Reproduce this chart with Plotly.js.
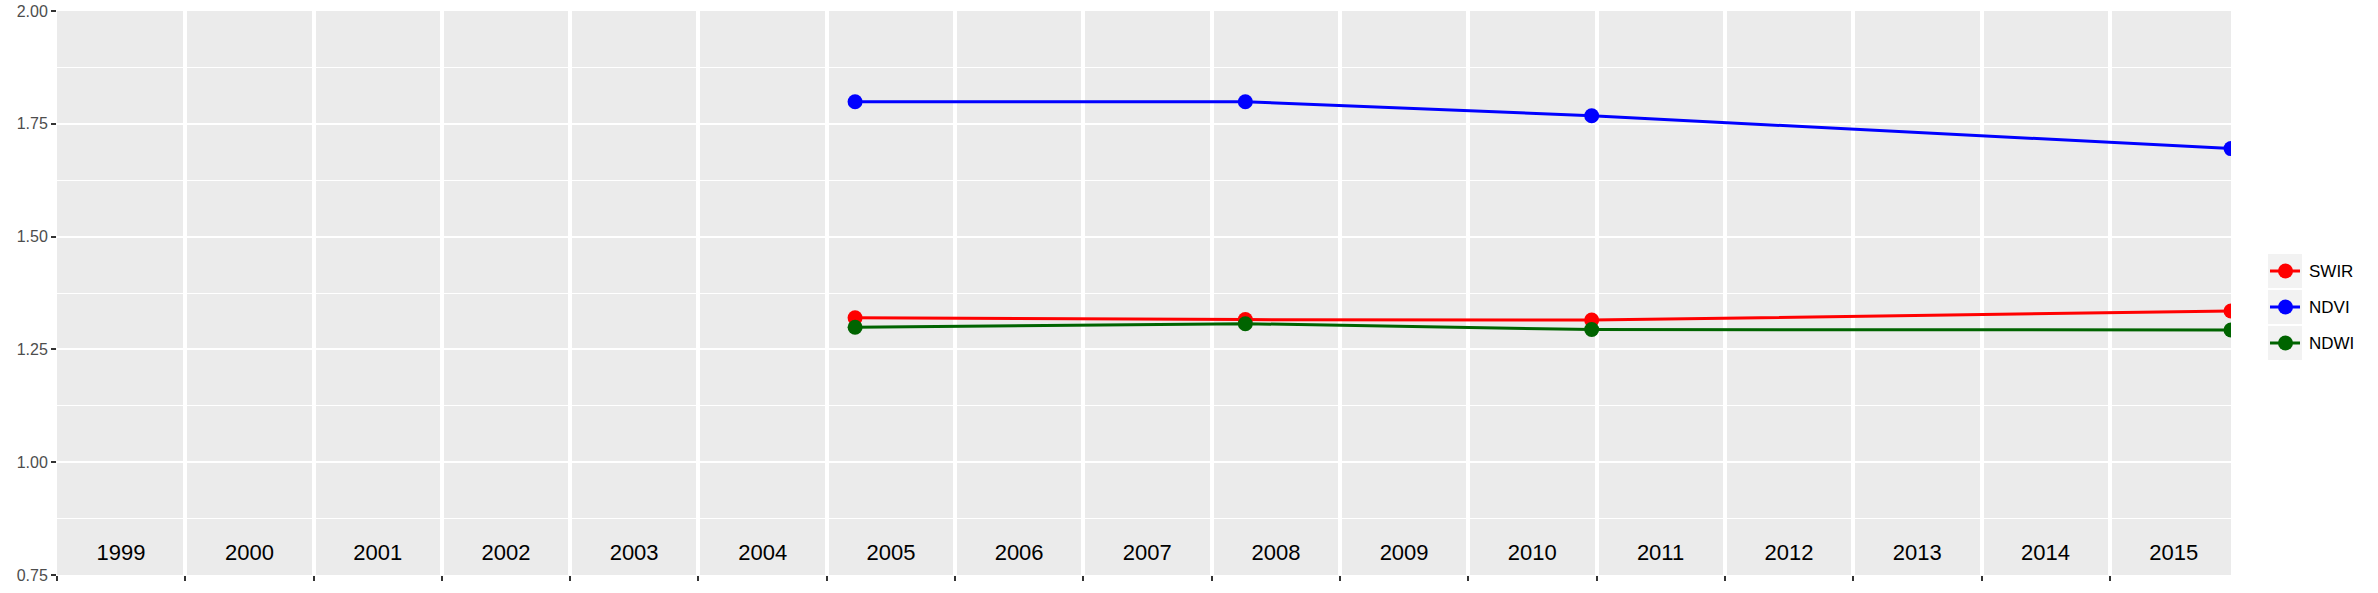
<!DOCTYPE html>
<html>
<head>
<meta charset="utf-8">
<script src="https://cdn.plot.ly/plotly-3.0.1.min.js"></script>
<style>html,body{margin:0;padding:0;background:#fff;}#chart{width:2378px;height:593px;}</style>
</head>
<body>
<div id="chart"></div>
<script>
// ---- data ----
const dates = ['2005-03-22', '2008-04-06', '2010-12-18', '2015-12-12'];
const swir  = [1.320, 1.316, 1.315, 1.335];
const ndvi  = [1.799, 1.799, 1.768, 1.695];
const ndwi  = [1.299, 1.307, 1.294, 1.293];
const seriesNames  = ['SWIR', 'NDVI', 'NDWI'];
const seriesColors = ['#FF0000', '#0000FF', '#006400'];
const yearLabels = ['1999','2000','2001','2002','2003','2004','2005','2006','2007','2008','2009','2010','2011','2012','2013','2014','2015'];
const yTicks = [0.75, 1.00, 1.25, 1.50, 1.75, 2.00];

// ---- layout geometry ----
const W = 2378, H = 593;
const M = {l: 57, r: 147, t: 11, b: 18};
const PW = W - M.l - M.r, PH = H - M.t - M.b;
const px = x => (x - M.l) / PW;
const py = y => (H - M.b - y) / PH;
const labelY = 0.795;

const seriesVals = [swir, ndvi, ndwi];
const traces = seriesVals.map((v, i) => ({
  x: dates, y: v, type: 'scatter', mode: 'lines+markers', name: seriesNames[i],
  line: {color: seriesColors[i], width: 3},
  marker: {color: seriesColors[i], size: 15},
  showlegend: false, hoverinfo: 'x+y'
}));
traces.push({
  x: yearLabels.map(y => y + '-07-02'), y: yearLabels.map(() => labelY),
  type: 'scatter', mode: 'text', text: yearLabels, textposition: 'middle center',
  textfont: {family: 'Liberation Sans, Arial, sans-serif', size: 22, color: '#000000'},
  showlegend: false, hoverinfo: 'skip'
});

// manual legend (ggplot style keys)
const shapes = [], annotations = [];
seriesNames.forEach((n, i) => {
  const top = 254 + 36 * i, cy = top + 17;
  shapes.push({type: 'rect', xref: 'paper', yref: 'paper', x0: px(2268), x1: px(2302), y0: py(top + 34), y1: py(top),
    fillcolor: '#F2F2F2', line: {width: 0}, layer: 'above'});
  shapes.push({type: 'line', xref: 'paper', yref: 'paper', x0: px(2270), x1: px(2300), y0: py(cy), y1: py(cy),
    line: {color: seriesColors[i], width: 3}, layer: 'above'});
  shapes.push({type: 'circle', xref: 'paper', yref: 'paper', x0: px(2285.5 - 7.5), x1: px(2285.5 + 7.5), y0: py(cy + 7.5), y1: py(cy - 7.5),
    fillcolor: seriesColors[i], line: {width: 0}, layer: 'above'});
  annotations.push({xref: 'paper', yref: 'paper', x: px(2307), y: py(cy), xanchor: 'left', yanchor: 'middle',
    text: n, showarrow: false, font: {family: 'Liberation Sans, Arial, sans-serif', size: 17, color: '#000000'}});
});

const layout = {
  width: W, height: H,
  margin: M,
  paper_bgcolor: '#FFFFFF', plot_bgcolor: '#EBEBEB',
  showlegend: false,
  font: {family: 'Liberation Sans, Arial, sans-serif'},
  xaxis: {
    type: 'date', range: ['1999-01-01', '2015-12-12'],
    tick0: '1999-01-01', dtick: 'M12',
    showgrid: true, gridcolor: '#FFFFFF', gridwidth: 4,
    showticklabels: false, ticks: 'outside', ticklen: 5, tickwidth: 2, tickcolor: '#333333',
    zeroline: false, showline: false, fixedrange: true
  },
  yaxis: {
    range: [0.75, 2.0], tickvals: yTicks, ticktext: yTicks.map(v => v.toFixed(2)),
    showgrid: true, gridcolor: '#FFFFFF', gridwidth: 2,
    minor: {dtick: 0.125, tick0: 0.75, showgrid: true, gridcolor: '#FFFFFF', gridwidth: 1, ticks: ''},
    ticks: 'outside', ticklen: 5, tickwidth: 2, tickcolor: '#333333',
    tickfont: {family: 'Liberation Sans, Arial, sans-serif', size: 16, color: '#4D4D4D'},
    zeroline: false, showline: false, fixedrange: true
  },
  shapes: shapes,
  annotations: annotations
};

Plotly.newPlot('chart', traces, layout, {displayModeBar: false, staticPlot: true});
</script>
</body>
</html>
